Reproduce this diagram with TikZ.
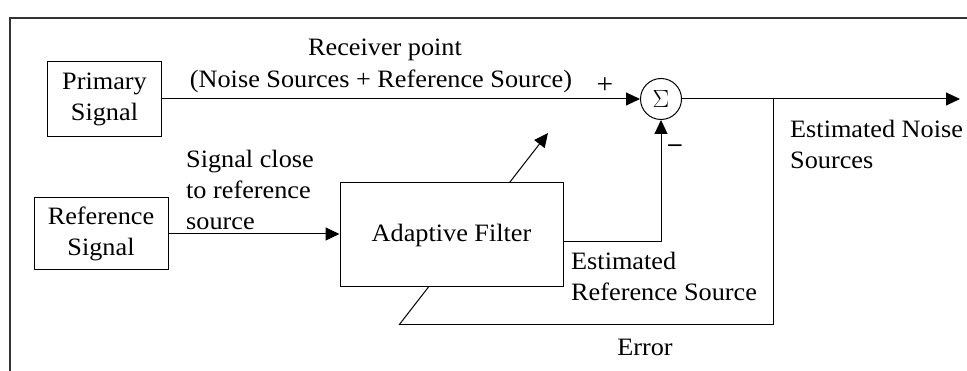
\documentclass[tikz,border=0pt]{standalone}
\usepackage{fontspec}
\setmainfont[FakeStretch=1.05]{Liberation Serif}
\usetikzlibrary{arrows.meta}
\usetikzlibrary{calc}
\tikzset{
	block/.style={draw, line width=1pt, fill=white, inner sep=0pt, align=center},
	sig/.style={line width=1pt, -{Triangle[length=14pt,width=13pt]}},
	wire/.style={line width=1pt},
	lbl/.style={inner sep=0pt}
}
\begin{document}
\begin{tikzpicture}[x=1pt, y=-1pt, font=\fontsize{25}{31}\selectfont]
	% picture 967 x 371, one unit = one pixel of the reference
	\useasboundingbox (0,0) rectangle (967,371);
	% frame, open at bottom and right
	\draw[line width=1.6pt, black!80] (967,18) -- (10,18) -- (10,371);
	
	% update arrow goes behind the filter box
	\coordinate (errend) at (399,325);
	\coordinate (updtip) at (548,133);
	\draw[sig] (errend) -- (updtip);
	
	% blocks
	\node[block, minimum width=114, minimum height=75] (prim) at (104.5,99.5) {Primary\\Signal};
	\node[block, minimum width=134, minimum height=72] (refsig) at (101,234) {Reference\\Signal};
	\node[block, minimum width=223, minimum height=104] (filt) at (451.5,235) {Adaptive Filter};
	\node[draw, circle, line width=1pt, minimum size=41, inner sep=0pt, font=\fontsize{26}{26}\selectfont] (sum) at (661,99) {$\Sigma$};
	\coordinate (out) at (960,99);
	\coordinate (tap) at (773,99);
	
	% connectors
	\draw[sig] (prim.east |- sum.west) -- (sum.west);
	\draw[sig] (sum.east) -- (out);
	\draw[sig] (refsig.east) -- (refsig.east -| filt.west);
	\draw[sig] ([yshift=-7pt]filt.east) -| (sum.south);
	\draw[wire] (tap) |- (errend);
	
	% labels
	\node[lbl] (rcv) at (385,50) {Receiver point};
	\node[lbl] (mix) at (381,81) {(Noise Sources + Reference Source)};
	\node[lbl, font=\fontsize{28}{28}\selectfont] (plus) at (605,86) {+};
	\node[lbl, font=\fontsize{25}{25}\bfseries] (minus) at (675,148) {--};
	\node[lbl, align=left, anchor=west] (close) at (186,190) {Signal close\\to reference\\source};
	\node[lbl, align=left, anchor=west] (estref) at (571,276) {Estimated\\Reference Source};
	\node[lbl, align=left, anchor=west] (estnoise) at (790,144) {Estimated Noise\\Sources};
	\node[lbl] (err) at (645,347) {Error};
\end{tikzpicture}
\end{document}
